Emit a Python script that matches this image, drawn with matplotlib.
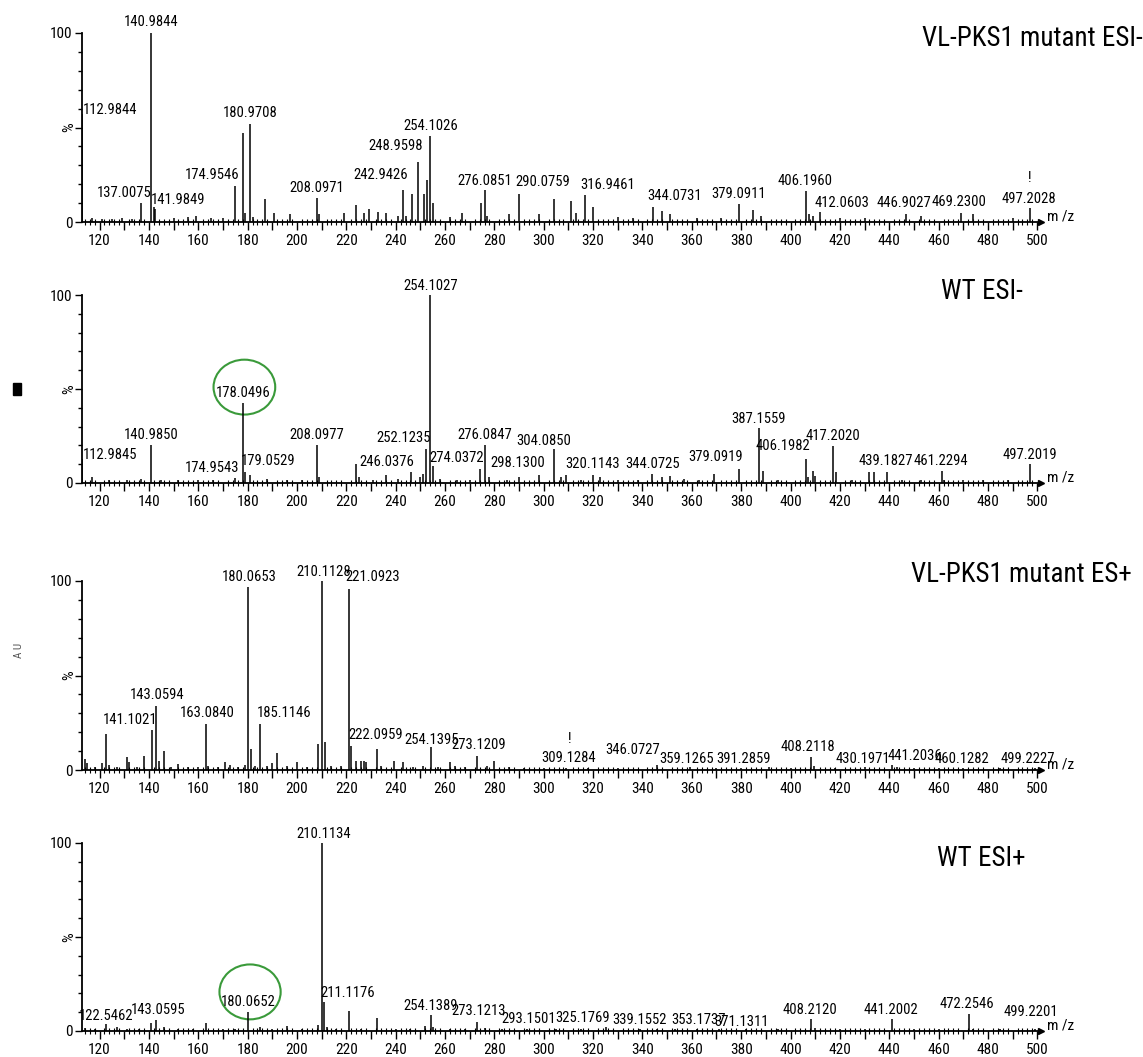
import matplotlib
matplotlib.use("Agg")
import matplotlib.pyplot as plt
from matplotlib import ticker
from matplotlib import font_manager as fm
from matplotlib.patches import Ellipse, Rectangle

# ---- data: (m/z, relative intensity %) ----
mut_neg_peaks = [
    (112.98, 57), (117, 2), (121, 1.5), (125, 1.5), (129, 2), (133, 1.5),
    (137.01, 10), (140.98, 100), (141.98, 8), (142.6, 7), (150, 2), (156, 2.5),
    (159, 3), (165, 2), (170, 2), (174.95, 19), (178.0, 47), (179, 5),
    (180.97, 52), (182, 2.5), (187.1, 12), (190.5, 5), (197, 4), (208.1, 12.5),
    (209, 4), (219, 5), (224, 9), (227, 5), (229, 7), (233, 5.5), (236, 5),
    (241, 3), (243.0, 17), (244, 3), (246.5, 15), (249.0, 32), (251.5, 15),
    (252.5, 22), (254.1, 45.5), (255, 10), (262, 2.5), (267, 5), (274.5, 10),
    (276.1, 17), (277, 3), (286, 4), (290.1, 15), (298, 4), (304, 12),
    (311, 11), (313, 5), (316.9, 14.5), (320, 8), (330, 2.5), (336, 2),
    (344.1, 8), (348, 6), (351, 4), (362, 2), (372, 2), (379.1, 9.5),
    (385, 6.5), (388, 3), (406.2, 16.5), (407.5, 4), (409, 3), (412.1, 5.5),
    (420, 2), (430, 2), (446.9, 4), (453, 3), (469.2, 5), (474, 4), (490, 2),
    (497.2, 7.5),
]
mut_neg_labels = ["112.9844", "137.0075", "140.9844", "141.9849", "174.9546",
                  "180.9708", "208.0971", "242.9426", "248.9598", "254.1026",
                  "276.0851", "290.0759", "316.9461", "344.0731", "379.0911",
                  "406.1960", "412.0603", "446.9027", "469.2300", "497.2028"]

wt_neg_peaks = [
    (112.98, 13), (117, 3), (124, 1.5), (131, 1.5), (137, 2), (140.99, 20),
    (145, 1.5), (152, 1.5), (160, 1.5), (166, 1.5), (174.95, 2.7), (178.05, 42.5),
    (179.05, 6), (181, 4.5), (188, 2), (196, 1.5), (202, 1.5), (208.1, 20),
    (209, 3), (224, 10), (225, 3), (231, 1.5), (236, 4.5), (241, 2),
    (246.04, 6), (250, 3), (251, 5), (252.12, 18), (254.1, 100), (255, 9),
    (258, 2), (265, 1.5), (270, 1.5), (274.04, 7.5), (276.08, 20), (278, 3),
    (285, 1.5), (290, 3), (298.13, 4.5), (304.09, 18), (307, 3), (309, 4.5),
    (315, 1.5), (320.11, 4.5), (323, 3), (330, 1.5), (338, 1.5), (344.07, 5),
    (348, 3), (351, 3.5), (357, 2.3), (363, 1.5), (369, 5), (379.09, 7.5),
    (387.16, 29), (389, 6.5), (395, 1.5), (406.2, 13), (407, 3), (409, 6.5),
    (410, 3.5), (417.2, 19.5), (418.5, 6), (425, 1.5), (432, 6), (434, 6),
    (439.18, 6), (445, 1.5), (453, 1.5), (461.23, 6.5), (462, 1.5), (470, 1.5),
    (478, 1.5), (488, 1.5), (497.2, 10),
]
wt_neg_labels = ["112.9845", "140.9850", "174.9543", "178.0496", "179.0529",
                 "208.0977", "246.0376", "252.1235", "254.1027", "274.0372",
                 "276.0847", "298.1300", "304.0850", "320.1143", "344.0725",
                 "379.0919", "387.1559", "406.1982", "417.2020", "439.1827",
                 "461.2294", "497.2019"]

mut_pos_peaks = [
    (114, 6), (115, 3.5), (118, 1.5), (121, 3.5), (122.8, 19), (124, 2.6),
    (127, 1.5), (131, 7), (132, 4), (135, 1.5), (138, 7.5), (141.1, 21),
    (143.06, 34), (144, 5), (146, 10), (149, 1.5), (152, 3), (156, 1.5),
    (160, 1.5), (163.08, 24.5), (164, 2), (168, 1.5), (171, 4), (173, 2.5),
    (176, 1.5), (179, 2.5), (180.07, 97), (181.5, 11), (183, 2), (185.11, 24.5),
    (188, 2), (190, 3.5), (192, 9), (196, 2), (200, 4), (204, 1.5),
    (208.5, 14), (210.11, 100), (211.5, 15), (214, 2), (218, 2), (221.09, 96),
    (222.1, 12.5), (224, 5), (226, 5), (227, 5), (228, 4), (232.5, 11),
    (234, 2), (239.5, 5), (243, 4), (247, 1.5), (251, 2), (254.14, 12),
    (257, 1.5), (262, 4), (264, 2), (268, 1.5), (273.12, 7.5), (277, 2),
    (280, 4.5), (286, 1.5), (292, 1.2), (300, 1.2), (309.13, 1.2), (318, 1),
    (330, 1), (346.07, 2.5), (359.13, 1.5), (370, 1), (380, 1), (391.29, 1.5),
    (400, 1), (408.21, 7), (409.5, 2), (418, 1), (430.2, 1.5), (441.2, 2.5),
    (443, 1.5), (450, 1), (460.13, 1), (470, 1), (485, 1), (499.22, 1),
]
mut_pos_labels = ["141.1021", "143.0594", "163.0840", "180.0653", "185.1146",
                  "210.1128", "221.0923", "222.0959", "254.1395", "273.1209",
                  "309.1284", "346.0727", "359.1265", "391.2859", "408.2118",
                  "430.1971", "441.2036", "460.1282", "499.2227"]

wt_pos_peaks = [
    (114, 1.5), (118, 1), (122.55, 3.5), (127, 2.3), (131, 1), (136, 1),
    (141, 4), (143.06, 6), (146, 2), (152, 1), (158, 1), (163, 4), (170, 1),
    (175, 1), (180.07, 10), (185, 2), (190, 1), (196, 2.7), (202, 1),
    (208.5, 3), (210.11, 100), (211.12, 15.5), (212, 2), (216, 1), (221, 10.5),
    (226, 1), (232.5, 7), (240, 1), (246, 1), (252, 2.7), (254.14, 8.5),
    (255, 2), (262, 1), (268, 1), (273.12, 5), (276, 1.5), (283, 1),
    (293.15, 1), (305, 1), (315, 1), (325.18, 2), (339.16, 1.2), (346, 1),
    (353.17, 1.2), (362, 1), (371.13, 1), (382, 1), (395, 1), (408.21, 6.5),
    (410, 1.5), (420, 1), (430, 1.2), (441.2, 6.5), (450, 1), (460, 1),
    (472.25, 9), (474, 1.2), (485, 1), (499.22, 1),
]
wt_pos_labels = ["122.5462", "143.0595", "180.0652", "210.1134", "211.1176",
                 "254.1389", "273.1213", "293.1501", "325.1769", "339.1552",
                 "353.1737", "371.1311", "408.2120", "441.2002", "472.2546",
                 "499.2201"]

titles = ["VL-PKS1 mutant ESI-", "WT ESI-", "VL-PKS1 mutant ES+", "WT ESI+"]

# ---- layout: label centres (m/z, %) ----
mut_neg_label_pos = [(113.3, 59), (130, 15.5), (141, 106), (152, 11.7), (165.7, 25),
                     (181, 57.6), (208, 17.8), (234, 25), (240, 40), (254.2, 51),
                     (276, 21.7), (299.5, 21.4), (326, 19.8), (353, 13.6), (378.8, 14.8),
                     (406, 21.5), (421, 10), (446, 10), (468.4, 10.4), (496.5, 12.4)]
wt_neg_label_pos = [(113.3, 14.7), (141, 25.3), (165.7, 8), (178.3, 47.8), (188.5, 11.5),
                    (208, 25.3), (236.3, 11.2), (243.2, 24), (254.2, 105), (264.8, 13.3),
                    (276.2, 25.7), (289.3, 10.6), (300.2, 22.5), (320, 10.3), (344, 10.3),
                    (369.5, 13.8), (387, 33.8), (397, 19.6), (417.3, 25), (438.6, 11.5),
                    (461, 11.5), (497, 15)]
mut_pos_label_pos = [(132.3, 26.4), (143.5, 39.6), (163.8, 30), (180.7, 102), (195, 30),
                     (210.7, 104.8), (230.5, 102), (232, 18.5), (254.5, 15.8), (273.7, 13.2),
                     (310, 6.2), (336, 10.6), (358, 5.8), (381, 5.8), (407, 12),
                     (429.5, 5.8), (450.5, 7.6), (469.5, 5.8), (496.3, 5.8)]
wt_pos_label_pos = [(122.8, 8), (143.8, 11), (180.3, 15.4), (210.7, 105), (220.6, 20.4),
                    (254.3, 13.3), (273.7, 10.6), (293.8, 6.5), (315.8, 7), (339, 6),
                    (362.6, 6), (380.3, 4.8), (408, 11.3), (440.7, 11.3), (471.6, 14.5),
                    (497.5, 10)]

# pick a narrow sans face if one is installed, like the instrument software uses
narrow = None
prefer = ["Liberation Sans Narrow", "Roboto Condensed", "DejaVu Sans", "Noto Sans",
          "Open Sans", "Roboto", "Lato", "Inter"]
cands = [f for f in fm.fontManager.ttflist
         if ("condensed" in str(f.stretch) or "narrow" in f.name.lower()
             or "condensed" in f.name.lower())
         and f.style == "normal" and str(f.weight) in ("400", "normal", "regular")]
for name in prefer:
    for f in cands:
        if f.name == name:
            narrow = f
            break
    if narrow is not None:
        break
if narrow is None and cands:
    narrow = cands[0]

if narrow is not None:
    plt.rcParams["font.family"] = [narrow.name, "DejaVu Sans"]
    plt.rcParams["font.stretch"] = narrow.stretch
else:
    plt.rcParams["font.family"] = ["Liberation Sans", "DejaVu Sans"]

fig = plt.figure(figsize=(11.43, 10.57), dpi=100)
renderer = fig.canvas.get_renderer()


def fit_size(text, target_px, base=10):
    t = fig.text(0, 0, text, fontsize=base)
    w = t.get_window_extent(renderer).width
    t.remove()
    return base * target_px / w


lab_fs = 10.5
tick_fs = 11
title_fs = fit_size("VL-PKS1 mutant ES+", 220)

W, H = 1143.0, 1057.0
left = 82 / W
width = (1041 - 82) / W
panel_px = [(222, 33), (483, 295), (770, 581), (1031, 843)]   # (baseline, top) in pixels
title_px = [(922, 38), (941, 292), (911, 575), (937, 858)]

panels = [
    (mut_neg_peaks, mut_neg_labels, mut_neg_label_pos),
    (wt_neg_peaks, wt_neg_labels, wt_neg_label_pos),
    (mut_pos_peaks, mut_pos_labels, mut_pos_label_pos),
    (wt_pos_peaks, wt_pos_labels, wt_pos_label_pos),
]


def fmt_x(v, pos):
    return "%d" % v if int(round(v)) % 20 == 0 else ""


axes = []
for i, (peaks, labels, lpos) in enumerate(panels):
    base, top = panel_px[i]
    ax = fig.add_axes([left, 1 - base / H, width, (base - top) / H])
    axes.append(ax)
    mz = [p[0] for p in peaks]
    inten = [p[1] for p in peaks]
    ax.vlines(mz, 0, inten, color="black", lw=1.1)
    ax.set_xlim(112.9, 501.5)
    ax.set_ylim(0, 100)

    for s in ["top", "right"]:
        ax.spines[s].set_visible(False)
    ax.spines["left"].set_linewidth(1.3)
    ax.spines["bottom"].set_linewidth(1.3)

    ax.xaxis.set_major_locator(ticker.MultipleLocator(10))
    ax.xaxis.set_major_formatter(ticker.FuncFormatter(fmt_x))
    ax.xaxis.set_minor_locator(ticker.MultipleLocator(2))
    ax.tick_params(axis="x", which="major", direction="out", length=6, width=1.0,
                   labelsize=tick_fs, pad=2.5)
    ax.tick_params(axis="x", which="minor", direction="inout", length=5, width=0.8)

    ax.set_yticks([0, 50, 100])
    ax.set_yticklabels(["0", "", "100"])
    ax.yaxis.set_minor_locator(ticker.MultipleLocator(10))
    ax.tick_params(axis="y", which="major", direction="out", length=5, width=1.0,
                   labelsize=tick_fs, pad=2)
    ax.tick_params(axis="y", which="minor", direction="out", length=3, width=1.0)
    ax.text(-0.006, 0.5, "%", transform=ax.transAxes, rotation=90, ha="right",
            va="center", fontsize=tick_fs)

    # arrow on m/z axis
    ax.plot(1, 0, ">", transform=ax.transAxes, clip_on=False, ms=4, color="black")
    ax.text(1.006, 0.03, "m /z", transform=ax.transAxes, ha="left", va="center",
            fontsize=tick_fs)

    for txt, (lx, ly) in zip(labels, lpos):
        ha = "left" if lx < 114 else "center"
        ax.text(lx, ly, txt, ha=ha, va="center", fontsize=lab_fs, clip_on=False)

    tx, ty = title_px[i]
    fig.text(tx / W, 1 - ty / H, titles[i], ha="left", va="center", fontsize=title_fs)

# small marks seen on the original figure
axes[0].text(496.8, 23.3, "!", ha="center", va="center", fontsize=lab_fs)
axes[2].text(310.4, 16.5, "!", ha="center", va="center", fontsize=lab_fs)

green = "#3a9a3a"
axes[1].add_patch(Ellipse((178.7, 51), 25, 29.2, fill=False, ec=green, lw=1.5,
                          clip_on=False))
axes[3].add_patch(Ellipse((181, 20.8), 24.8, 29.2, fill=False, ec=green, lw=1.5,
                          clip_on=False))

fig.add_artist(Rectangle((13 / W, 1 - 395 / H), 8 / W, 12 / H,
                         transform=fig.transFigure, color="black"))
fig.text(19 / W, 1 - 650 / H, "A U", rotation=90, ha="center", va="center",
         fontsize=8, color="#555555")

fig.savefig("out.png", dpi=100)
